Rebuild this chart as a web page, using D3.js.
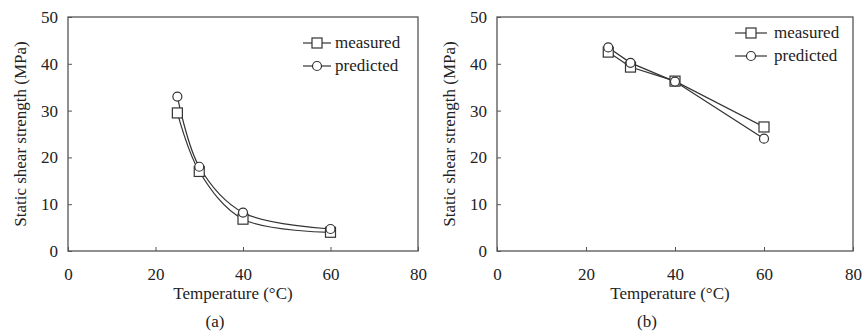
<!DOCTYPE html>
<html>
<head>
<meta charset="utf-8">
<script src="https://cdn.jsdelivr.net/npm/d3@7"></script>
<style>
  body { margin: 0; background: #fff; }
</style>
</head>
<body>
<div id="chart"></div>
<script>
// Chart dimensions
const width = 863;
const height = 332;
const font = "Liberation Serif";

// Data
const temps = [25, 30, 40, 60];
const measuredA = [29.5, 17.0, 6.8, 4.0];
const predictedA = [33.0, 18.0, 8.2, 4.7];
const measuredB = [42.5, 39.3, 36.3, 26.5];
const predictedB = [43.5, 40.2, 36.2, 24.0];
const xTicks = [0, 20, 40, 60, 80];
const yTicks = [0, 10, 20, 30, 40, 50];
const seriesNames = ["measured", "predicted"];

const svg = d3.select("#chart")
  .append("svg")
  .attr("width", width)
  .attr("height", height)
  .attr("font-family", font);

// small helper for text in the serif font
function label(g, x, y, str, anchor) {
  return g.append("text")
    .attr("x", x).attr("y", y)
    .attr("text-anchor", anchor || "start")
    .attr("font-family", font)
    .attr("font-size", 17)
    .attr("fill", "#222")
    .text(str);
}

// one panel: box, axes, lines, markers, legend, labels
function panel(opts) {
  const x = d3.scaleLinear().domain([0, 80]).range([opts.left, opts.right]);
  const y = d3.scaleLinear().domain([0, 50]).range([251, 17]);
  const g = svg.append("g");

  // frame
  g.append("rect")
    .attr("x", opts.left).attr("y", y(50))
    .attr("width", opts.right - opts.left).attr("height", y(0) - y(50))
    .attr("fill", "none").attr("stroke", "#555").attr("stroke-width", 1.3);

  // y axis, ticks pointing inward
  const yAxis = g.append("g")
    .attr("transform", `translate(${opts.left},0)`)
    .call(d3.axisRight(y).tickValues(yTicks).tickSize(4).tickFormat(d3.format("d")))
    .attr("font-family", font).attr("font-size", 17);
  yAxis.select(".domain").remove();
  yAxis.selectAll("line").attr("stroke", "#555");
  yAxis.selectAll("text")
    .attr("x", -10).attr("text-anchor", "end")
    .attr("font-family", font).attr("fill", "#222");

  // x axis, ticks pointing inward
  const xAxis = g.append("g")
    .attr("transform", `translate(0,${y(0)})`)
    .call(d3.axisTop(x).tickValues(xTicks).tickSize(4).tickFormat(d3.format("d")))
    .attr("font-family", font).attr("font-size", 17);
  xAxis.select(".domain").remove();
  xAxis.selectAll("line").attr("stroke", "#555");
  xAxis.selectAll("text")
    .attr("y", 29).attr("dy", 0)
    .attr("font-family", font).attr("fill", "#222");

  // lines
  const line = d3.line()
    .x((d, i) => x(temps[i]))
    .y(d => y(d))
    .curve(opts.curve);
  [opts.measured, opts.predicted].forEach(vals => {
    g.append("path")
      .attr("d", line(vals))
      .attr("fill", "none").attr("stroke", "#333").attr("stroke-width", 1.2);
  });

  // markers
  g.selectAll(".sq").data(opts.measured).enter()
    .append("rect")
    .attr("x", (d, i) => x(temps[i]) - 5).attr("y", d => y(d) - 5)
    .attr("width", 10).attr("height", 10)
    .attr("fill", "#fff").attr("stroke", "#333").attr("stroke-width", 1.2);
  g.selectAll(".ci").data(opts.predicted).enter()
    .append("circle")
    .attr("cx", (d, i) => x(temps[i])).attr("cy", d => y(d))
    .attr("r", 4.5)
    .attr("fill", "#fff").attr("stroke", "#333").attr("stroke-width", 1.2);

  // legend
  seriesNames.forEach((name, i) => {
    const ly = opts.legY + i * 23;
    g.append("line")
      .attr("x1", opts.legX - opts.legHalf).attr("x2", opts.legX + opts.legHalf)
      .attr("y1", ly).attr("y2", ly)
      .attr("stroke", "#333").attr("stroke-width", 1.2);
    if (i === 0) {
      g.append("rect")
        .attr("x", opts.legX - 5).attr("y", ly - 5).attr("width", 10).attr("height", 10)
        .attr("fill", "#fff").attr("stroke", "#333").attr("stroke-width", 1.2);
    } else {
      g.append("circle")
        .attr("cx", opts.legX).attr("cy", ly).attr("r", 4.5)
        .attr("fill", "#fff").attr("stroke", "#333").attr("stroke-width", 1.2);
    }
    label(g, opts.legX + opts.legGap, ly + 5, name);
  });

  // axis titles
  label(g, (opts.left + opts.right) / 2 + opts.titleShift, 299, "Temperature (°C)", "middle");
  label(g, 0, 0, "Static shear strength (MPa)", "middle")
    .attr("transform", `translate(${opts.left - 42},${(y(0) + y(50)) / 2}) rotate(-90)`);
  label(g, (opts.left + opts.right) / 2 - 28, 327, opts.label, "middle");
}

panel({left: 68, right: 418, measured: measuredA, predicted: predictedA,
       curve: d3.curveCatmullRom, legX: 317, legY: 43, legHalf: 14, legGap: 18,
       titleShift: -10, label: "(a)"});
panel({left: 497, right: 853, measured: measuredB, predicted: predictedB,
       curve: d3.curveLinear, legX: 751, legY: 33, legHalf: 16, legGap: 23,
       titleShift: -5, label: "(b)"});
</script>
</body>
</html>
